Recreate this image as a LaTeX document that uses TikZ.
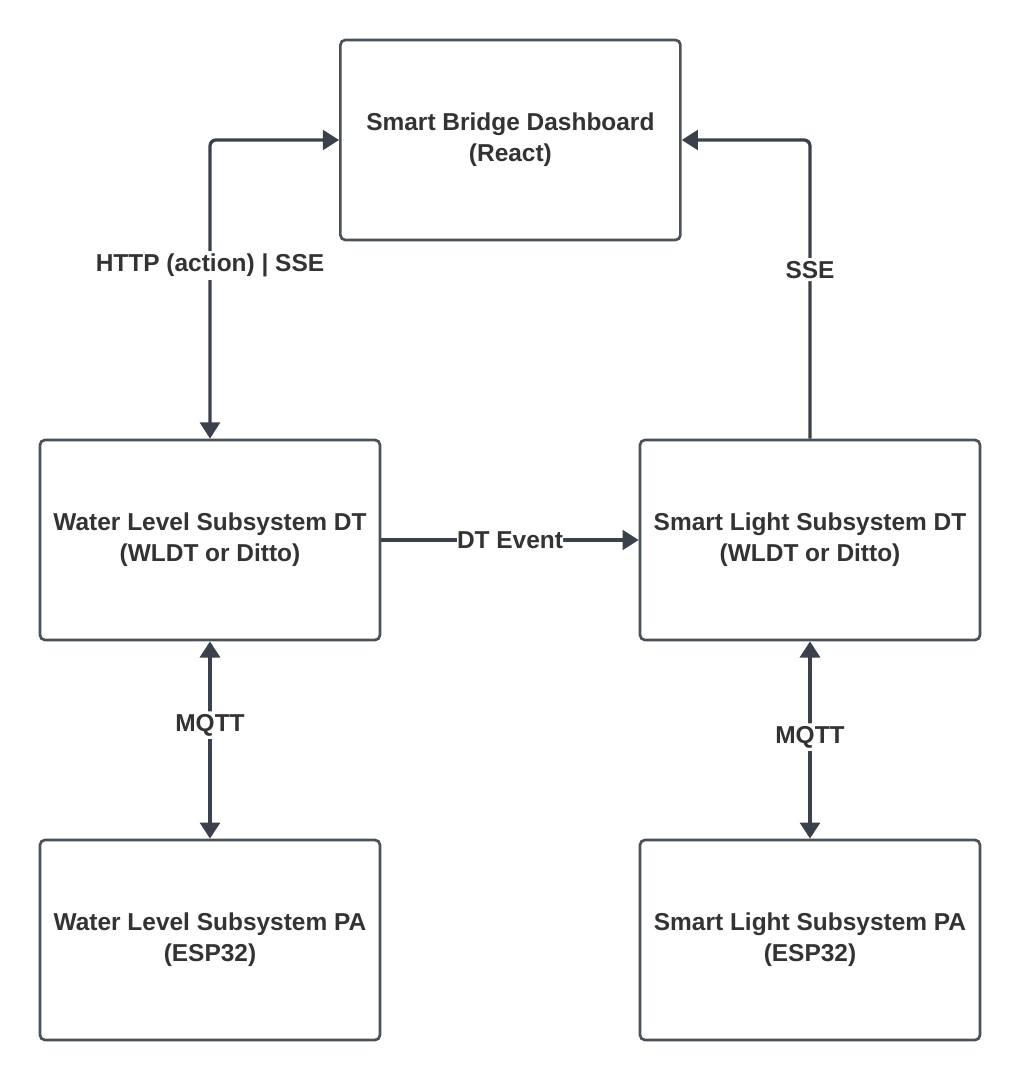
\documentclass[tikz,border=0pt]{standalone}
\usepackage{fontspec}
\setmainfont{Liberation Sans}
\usepackage{tikz}
\usetikzlibrary{shapes, arrows, arrows.meta, positioning}
\definecolor{edgegray}{HTML}{3A414A}
\definecolor{boxgray}{HTML}{4B5159}
\definecolor{txtgray}{HTML}{333333}
\tikzstyle{block} = [draw=boxgray, line width=1.9pt, rectangle, rounded corners=3.5pt,
    minimum height=5cm, minimum width=8.5cm]
\tikzstyle{link} = [draw=edgegray, line width=2.3pt, rounded corners=0.15cm]
\tikzstyle{tag} = [fill=white, inner sep=2pt]

\begin{document}
\begin{tikzpicture}[align=center, text=txtgray, font=\bfseries\fontsize{17.4}{22}\selectfont,
    >={Triangle[length=11.5pt, width=14pt]}]
        \useasboundingbox (0,0) rectangle (25.5,-27);
        \begin{scope}[node distance=2cm]
        \node[block, name=dash] at (12.76,-3.5) (dash) {Smart Bridge Dashboard \\ (React)};
        \node[block, name=wldt] at (5.25,-13.5) (wldt) {Water Level Subsystem DT \\ (WLDT or Ditto)};
        \node[block, name=sldt] at (20.25,-13.5) (sldt) {Smart Light Subsystem DT \\ (WLDT or Ditto)};
        \node[block, name=wlpa] at (5.25,-23.5) (wlpa) {Water Level Subsystem PA \\ (ESP32)};
        \node[block, name=slpa] at (20.25,-23.5) (slpa) {Smart Light Subsystem PA \\ (ESP32)};

            \draw[link, <->] (wldt.north) |- node[tag, pos=0.29] {HTTP (action) | SSE} (dash.west);
            \draw[link, ->] (sldt.north) |- node[tag, pos=0.283] {SSE} (dash.east);
            \draw[link, ->] (wldt) -- node[tag, inner sep=0pt] {DT Event} (sldt);
            \draw[link, <->, line width=3.3pt] (wldt) -- node[tag, pos=0.425] {MQTT} (wlpa);
            \draw[link, <->, line width=3.3pt] (sldt) -- node[tag, pos=0.485] {MQTT} (slpa);
        \end{scope}
    \end{tikzpicture}
\end{document}
